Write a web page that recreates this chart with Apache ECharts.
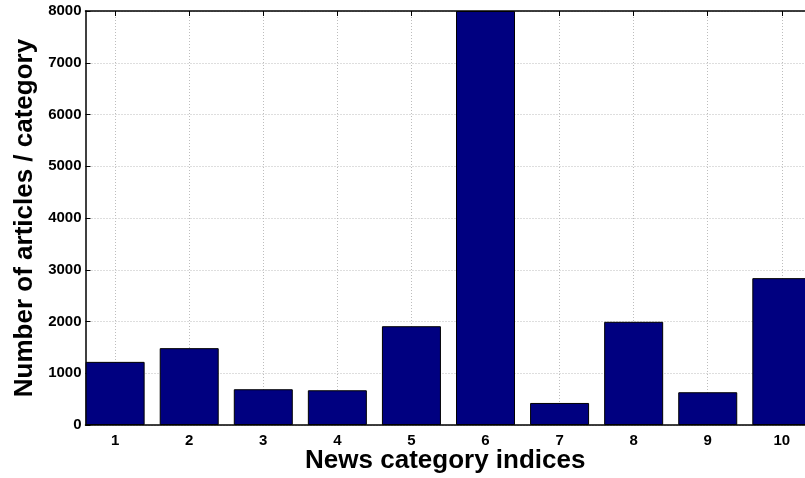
<!DOCTYPE html>
<html>
<head>
<meta charset="utf-8">
<script src="https://cdn.jsdelivr.net/npm/echarts@6/dist/echarts.min.js"></script>
<style>
  html, body { margin: 0; padding: 0; background: #fff; }
  #news_chart { width: 805px; height: 478px; }
</style>
</head>
<body>
<div id="news_chart"></div>
<script>
// category indices and article counts
var categories = [1, 2, 3, 4, 5, 6, 7, 8, 9, 10];
var counts = [1220, 1485, 691, 671, 1909, 8000, 426, 1994, 633, 2838];
var yTicks = [0, 1000, 2000, 3000, 4000, 5000, 6000, 7000, 8000];

var FONT = '"Liberation Sans", Arial, Helvetica, sans-serif';

var myChart = echarts.init(document.getElementById('news_chart'));

var barData = categories.map(function (c, i) { return [c, counts[i]]; });

var gridDots = { color: '#bdbdbd', width: 1, type: [1, 2] };

// the figure is cut off on the right, past category 10
var xMin = 0.6, xMax = 10.313;

option = {
    animation: false,
    backgroundColor: '#fff',
    grid: { left: 85.5, right: 0, top: 11, bottom: 53, outerBoundsMode: 'none', containLabel: false },
    xAxis: [{
        type: 'value',
        min: xMin,
        max: xMax,
        name: 'News category indices',
        nameLocation: 'middle',
        nameGap: 23,
        nameMoveOverlap: false,
        nameTextStyle: { fontFamily: FONT, fontWeight: 'bold', fontSize: 26, color: '#000' },
        axisLine: { show: true, lineStyle: { color: '#000', width: 1.5 } },
        axisTick: { show: true, inside: true, length: 5, customValues: categories, lineStyle: { color: '#000' } },
        axisLabel: { customValues: categories, margin: 8, fontFamily: FONT, fontWeight: 'bold', fontSize: 15, color: '#000' },
        splitLine: { show: true, lineStyle: gridDots }
    }, {
        type: 'value',
        position: 'top',
        min: xMin,
        max: xMax,
        axisLine: { show: true, lineStyle: { color: '#000', width: 1.5 } },
        axisTick: { show: true, inside: true, length: 5, customValues: categories, lineStyle: { color: '#000' } },
        axisLabel: { show: false },
        splitLine: { show: false }
    }],
    yAxis: {
        type: 'value',
        min: 0,
        max: 8000,
        interval: 1000,
        name: 'Number of articles / category',
        nameLocation: 'middle',
        nameGap: 48,
        nameMoveOverlap: false,
        nameTextStyle: { fontFamily: FONT, fontWeight: 'bold', fontSize: 26, color: '#000' },
        axisLine: { show: true, lineStyle: { color: '#000', width: 1.5 } },
        axisTick: { show: true, inside: true, length: 5, customValues: yTicks, lineStyle: { color: '#000' } },
        axisLabel: {
            margin: 4, fontFamily: FONT, fontWeight: 'bold', fontSize: 15, color: '#000',
            formatter: function (v) { return String(v); }
        },
        splitLine: { show: true, lineStyle: gridDots }
    },
    series: [{
        type: 'bar',
        xAxisIndex: 0,
        data: barData,
        barWidth: 59,
        itemStyle: { color: '#000080', borderColor: '#000', borderWidth: 1 }
    }]
};

myChart.setOption(option, true);
</script>
</body>
</html>
